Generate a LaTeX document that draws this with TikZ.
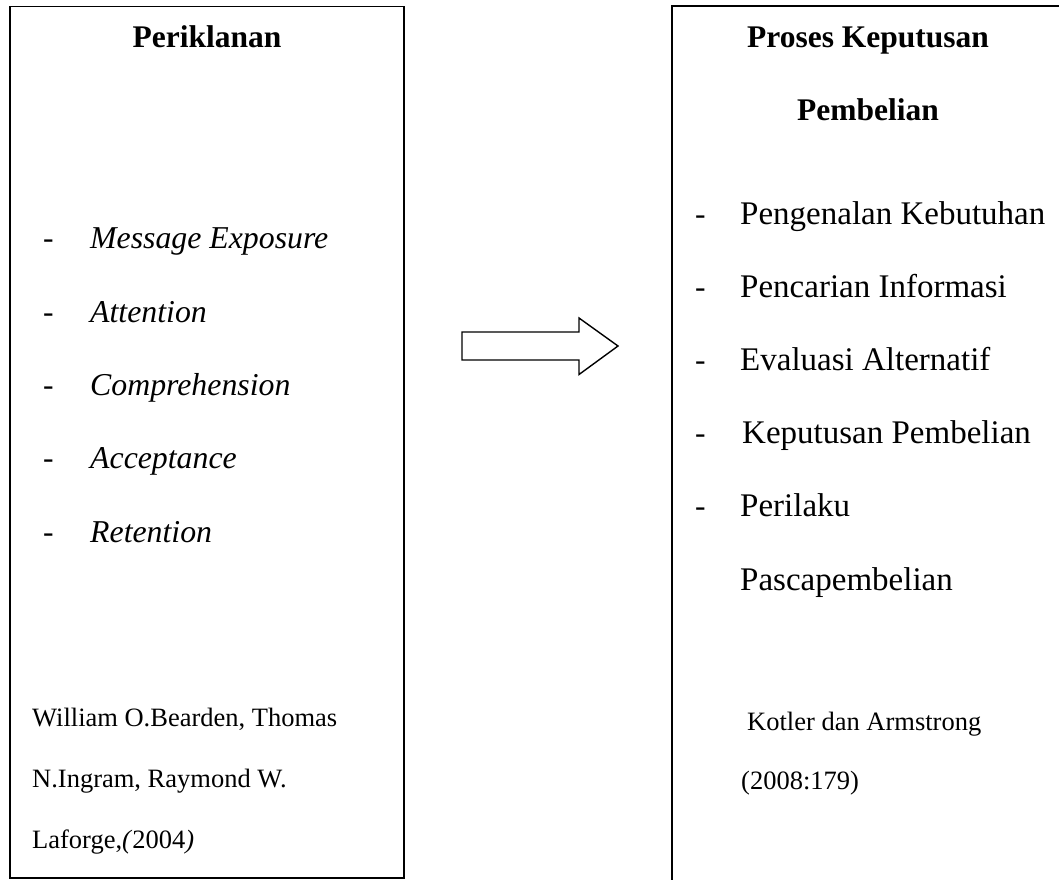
\documentclass[tikz,border=0pt]{standalone}
\usepackage{fontspec}
\setmainfont{Liberation Serif}
\begin{document}
\begin{tikzpicture}[x=1pt,y=-1pt,
  box/.style={draw=black,line width=1.6pt,inner sep=0pt,fill=none},
  big/.style={inner sep=0pt,font=\fontsize{31.5}{36}\selectfont},
  head/.style={big,font=\fontsize{31.5}{36}\selectfont\bfseries,anchor=base},
  item/.style={big,font=\fontsize{31.8}{36}\selectfont\itshape,anchor=base west},
  ritem/.style={inner sep=0pt,font=\fontsize{33}{38}\selectfont,anchor=base west},
  dashmark/.style={big,anchor=base west},
  cite/.style={inner sep=0pt,font=\fontsize{26.5}{30}\selectfont,anchor=base west}]
\useasboundingbox (0,0) rectangle (1059,879);
\clip (0,0) rectangle (1059,879);
\fill[white] (0,0) rectangle (1059,879);
% boxes
\node[box,minimum width=394pt,minimum height=871.5pt] (L) at (207,442.25) {};
\node[box,minimum width=394pt,minimum height=884pt] (R) at (869,448) {};
% left content
\node[head] (lh) at (207,47) {Periklanan};
\node[dashmark] (ld1) at (43,248) {-};
\node[item] (l1) at (90,248) {Message Exposure};
\node[dashmark] (ld2) at (43,322) {-};
\node[item] (l2) at (90,322) {Attention};
\node[dashmark] (ld3) at (43,395) {-};
\node[item] (l3) at (90,395) {Comprehension};
\node[dashmark] (ld4) at (43,468) {-};
\node[item] (l4) at (90,468) {Acceptance};
\node[dashmark] (ld5) at (43,542) {-};
\node[item] (l5) at (90,542) {Retention};
\node[cite] (lc1) at (32,726) {William O.Bearden, Thomas};
\node[cite] (lc2) at (32,787) {N.Ingram, Raymond W.};
\node[cite] (lc3) at (32,848) {Laforge,\textit{(}2004\textit{)}};
% right content
\node[head] (rh1) at (868,47) {Proses Keputusan};
\node[head] (rh2) at (868,120) {Pembelian};
\node[dashmark] (rd1) at (695,224) {-};
\node[ritem] (r1) at (740,224) {Pengenalan Kebutuhan};
\node[dashmark] (rd2) at (695,297) {-};
\node[ritem] (r2) at (740,297) {Pencarian Informasi};
\node[dashmark] (rd3) at (695,370) {-};
\node[ritem] (r3) at (740,370) {Evaluasi Alternatif};
\node[dashmark] (rd4) at (695,443) {-};
\node[ritem] (r4) at (742,443) {Keputusan Pembelian};
\node[dashmark] (rd5) at (695,516) {-};
\node[ritem] (r5) at (740,516) {Perilaku};
\node[ritem] (r6) at (740,590) {Pascapembelian};
\node[cite] (rc1) at (747,730) {Kotler dan Armstrong};
\node[cite] (rc2) at (741,789) {(2008:179)};
% block arrow
\draw[line width=1.4pt,line join=miter,fill=white]
  (462,332) -- (579,332) -- (579,318) -- (618,346) -- (579,374.5) -- (579,360) -- (462,360) -- cycle;
\end{tikzpicture}
\end{document}
